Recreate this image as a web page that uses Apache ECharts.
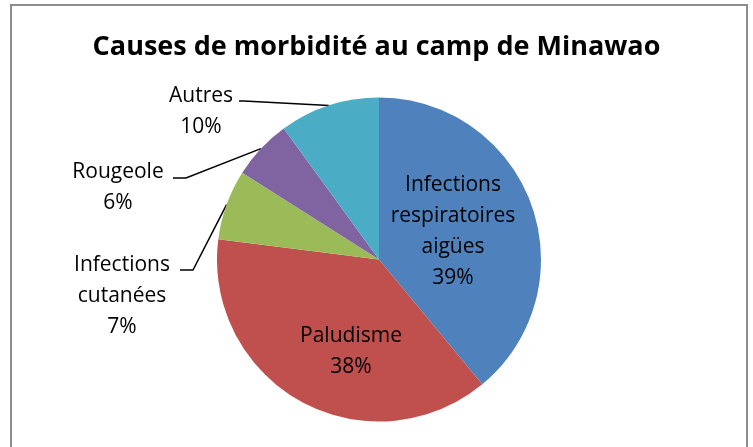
<!DOCTYPE html>
<html>
<head>
    <meta charset="utf-8">
    <title>Causes de morbidité au camp de Minawao</title>
    <script src="https://cdn.jsdelivr.net/npm/echarts@6/dist/echarts.min.js"></script>
    <style>
        html, body { margin: 0; padding: 0; background: #fff; }
        #main { width: 753px; height: 447px; }
    </style>
</head>
<body>
<div id="main"></div>
<script type="text/javascript">
    // données
    var categories = ['Infections respiratoires aigües', 'Paludisme', 'Infections cutanées', 'Rougeole', 'Autres'];
    var labelTexts = ['Infections\nrespiratoires\naigües', 'Paludisme', 'Infections\ncutanées', 'Rougeole', 'Autres'];
    var values = [39, 38, 7, 6, 10];
    var colors = ['#4F81BD', '#C0504D', '#9BBB59', '#8064A2', '#4BACC6'];

    // position des étiquettes (centre du bloc de texte)
    var labelPos = [[453, 232], [351, 352], [122, 296], [118, 188], [201, 112]];
    // coude du trait de rappel et point d'accroche côté texte
    var linePts = [null, null, [[193, 270], [180, 270]], [[186, 178], [173, 178]], [[244, 101], [239, 101]]];

    var myChart = echarts.init(document.getElementById('main'));

    var data = [];
    for (var i = 0; i < categories.length; i++) {
        var inside = i < 2;
        data.push({
            name: categories[i],
            value: values[i],
            itemStyle: { color: colors[i] },
            label: { position: inside ? 'inside' : 'outside' },
            labelLine: { show: !inside }
        });
    }

    var option = {
        animation: false,
        title: {
            text: 'Causes de morbidité au camp de Minawao',
            left: 'center',
            top: 29,
            textStyle: {
                fontFamily: 'Open Sans',
                fontSize: 27,
                fontWeight: 'bold',
                color: '#000'
            }
        },
        graphic: [{
            type: 'rect',
            shape: { x: 11, y: 5, width: 736, height: 470 },
            style: { fill: null, stroke: '#8c8c8c', lineWidth: 2 }
        }],
        series: [{
            type: 'pie',
            center: [379, 259.5],
            radius: 162,
            startAngle: 90,
            clockwise: true,
            label: {
                formatter: function (p) {
                    return labelTexts[p.dataIndex] + '\n' + p.value + '%';
                },
                fontFamily: 'Open Sans',
                fontSize: 21,
                lineHeight: 31,
                color: '#000',
                align: 'center'
            },
            labelLine: {
                lineStyle: { color: '#000', width: 1.5 }
            },
            labelLayout: function (params) {
                var i = params.dataIndex;
                var res = {
                    x: labelPos[i][0],
                    y: labelPos[i][1],
                    align: 'center',
                    verticalAlign: 'middle'
                };
                if (linePts[i] && params.labelLinePoints) {
                    var pts = params.labelLinePoints;
                    res.labelLinePoints = [pts[0], linePts[i][0], linePts[i][1]];
                }
                return res;
            },
            data: data
        }]
    };

    myChart.setOption(option);
</script>
</body>
</html>
